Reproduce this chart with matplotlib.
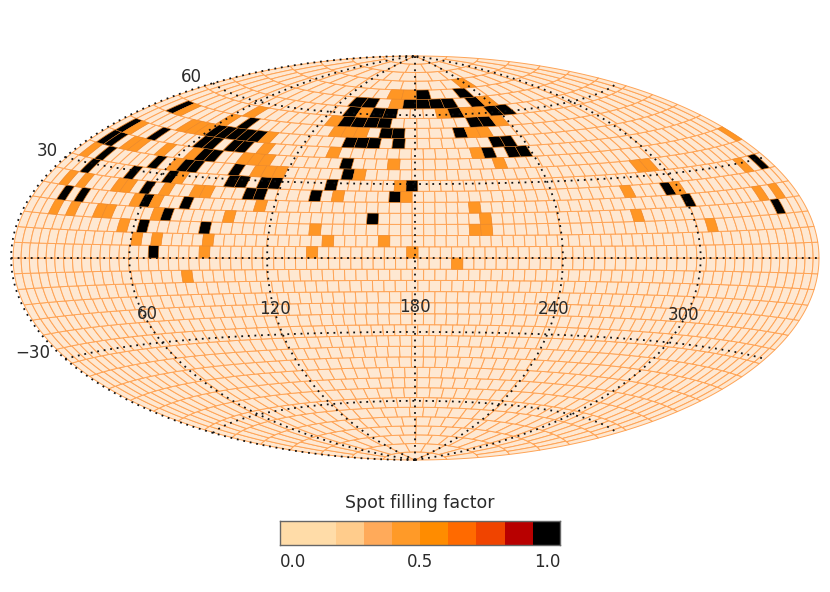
import numpy as np, matplotlib
matplotlib.use('Agg')
import matplotlib.pyplot as plt
from matplotlib.collections import PolyCollection

LAT_STEP = 4.5
CELLS_AT_EQUATOR = 80
CELLS_OVERRIDE = {2:77, 14:34}
LON_SHIFT = 1.2
# spot cells, as {latitude band: [cell numbers counted from longitude 0]}
SPOT_FULL = {
 0:[15], 2:[13,19], 3:[15,34,73], 4:[3,5,12,16,62], 5:[11,21,22,27,34,59],
 6:[3,8,12,18,19,21,22,27,34,68], 7:[3,9,12,13,17,27], 8:[1,2,12,13,25],
 9:[1,5,10,11,13,14,35,37,38], 10:[9,10,11,12,13,21,22,23,25,33,34],
 11:[2,10,22,23,28], 12:[16,17,18,19,26,27], 13:[14,16,17,22,25,26],
 14:[12,13,16,17,18,19,21], 15:[14,17],
}
SPOT_PARTIAL = {
 -2:[18], -1:[43], 0:[20,30,39], 1:[13,15,20,31,36], 2:[11,29,43,44,65],
 3:[3,5,8,9,14,21,44,58], 4:[11,13,23,42,70,72], 5:[2,4,8,9,13,16,17,29,35,55,60],
 6:[13,33,66], 7:[1,11,19,20,21,28,53,54], 8:[4,5,8,11,16,17,18,29,38,62],
 9:[2,16,22,34], 10:[6,7,8,14], 11:[3,8,18,19,20,29,30], 12:[8,15,28],
 13:[15,21,23,24], 14:[15,22], 15:[12,13], 16:[14],
}
LON_LINES = [60,120,180,240,300]
LAT_LINES = [-60,-30,0,30,60]
BAR_EDGES = [-0.051,0.169,0.280,0.390,0.500,0.611,0.722,0.833,0.943,1.051]
BAR_COLORS = ['#FFDCA8','#FFCC8C','#FFAA5A','#FF9A28','#FF8C00','#FF6A00','#F04400','#B80000','#000000']
BAR_TICKS = [0.0,0.5,1.0]

W,H = 830,592
fig = plt.figure(figsize=(W/100,H/100),dpi=100)
ax = fig.add_axes([11/W,(H-460)/H,808/W,404/H],projection='hammer')
ax.grid(False); ax.set_xticks([]); ax.set_yticks([])
ax.axis('off')

def rad(lon): return np.radians(lon-180+LON_SHIFT)
base=[];spots=[];spot_faces=[]
nb=int(90/LAT_STEP)
for r in range(-nb,nb):
    lo,hi=r*LAT_STEP,(r+1)*LAT_STEP
    N=CELLS_OVERRIDE.get(r,int(round(CELLS_AT_EQUATOR*np.cos(np.radians((lo+hi)/2)))))
    for c in range(N):
        l0,l1=c*360/N,(c+1)*360/N
        a=max(rad(l0),-np.pi); b=min(rad(l1),np.pi)
        q=[(a,np.radians(lo)),(b,np.radians(lo)),(b,np.radians(hi)),(a,np.radians(hi))]
        base.append(q)
        if c in SPOT_FULL.get(r,[]):
            spots.append(q); spot_faces.append('#000000')
        elif c in SPOT_PARTIAL.get(r,[]):
            spots.append(q); spot_faces.append('#FF9624')
ax.add_collection(PolyCollection(base,facecolors='#FEE8D2',edgecolors='#FFA456',linewidths=0.7,zorder=1,clip_on=False))
ax.add_collection(PolyCollection(spots,facecolors=spot_faces,edgecolors='#E8862A',linewidths=0.3,zorder=2,clip_on=False))

dot=(0,(1,2.65))
for lon in LON_LINES+[0.05]:
    la=np.linspace(-90,90,181)
    ax.plot(np.full(la.shape,np.radians(lon-180)),np.radians(la),color='#111111',ls=dot,lw=1.3,zorder=3,clip_on=False)
for lat in LAT_LINES:
    lo=np.linspace(-180,180,361)
    ax.plot(np.radians(lo),np.full(lo.shape,np.radians(lat)),color='#111111',ls=dot,lw=1.3,zorder=3,clip_on=False)

tc='#2A2A2A'
for s,x,y in [('60',191,77),('30',47,151),('\u221230',33,353),('60',147,314),('120',275,309),('180',415,307),('240',554,309),('300',683,315)]:
    fig.text(x/W,1-y/H,s,ha='center',va='center',fontsize=12,color=tc)

cax = fig.add_axes([280/W,(H-545)/H,280/W,24/H])
for i,col in enumerate(BAR_COLORS):
    cax.barh(0.5,BAR_EDGES[i+1]-BAR_EDGES[i],height=1,left=BAR_EDGES[i],color=col,linewidth=0)
cax.set_xlim(BAR_EDGES[0],BAR_EDGES[-1]); cax.set_ylim(0,1)
cax.set_yticks([]); cax.set_xticks(BAR_TICKS,[f'{v:.1f}' for v in BAR_TICKS],fontsize=12,color=tc)
cax.tick_params(axis='x',length=0,pad=6)
for s in cax.spines.values():
    s.set_color('#666666'); s.set_linewidth(1)
fig.text(420/W,1-503/H,'Spot filling factor',ha='center',va='center',fontsize=12.5,color=tc)
fig.savefig('out.png',dpi=100)
